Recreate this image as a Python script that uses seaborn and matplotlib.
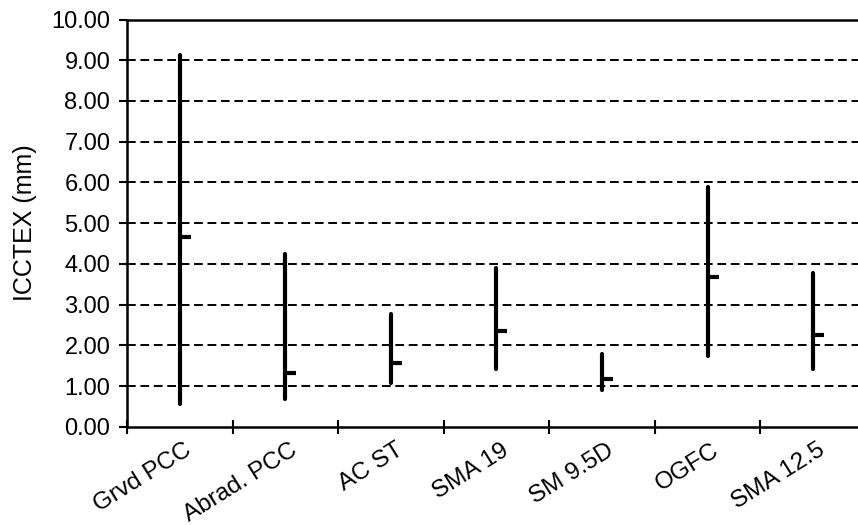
import numpy as np
import pandas as pd
import matplotlib
matplotlib.use("Agg")
import matplotlib.pyplot as plt
import matplotlib.transforms as mtransforms
import seaborn as sns
from matplotlib.ticker import FixedLocator, FormatStrFormatter

categories = ["Grvd PCC", "Abrad. PCC", "AC ST", "SMA 19", "SM 9.5D", "OGFC", "SMA 12.5"]
high_vals = [9.12, 4.23, 2.78, 3.89, 1.78, 5.89, 3.78]
low_vals = [0.57, 0.68, 1.07, 1.43, 0.90, 1.74, 1.41]
mean_vals = [4.65, 1.31, 1.56, 2.35, 1.17, 3.68, 2.25]
y_ticks = [0, 1, 2, 3, 4, 5, 6, 7, 8, 9, 10]

sns.set_theme(style="white")
plt.rcParams["font.family"] = ["Liberation Sans", "DejaVu Sans"]

rng_df = pd.DataFrame({
    "cat": categories * 2,
    "val": high_vals + low_vals,
})
mean_df = pd.DataFrame({"cat": categories, "val": mean_vals})

fig = plt.figure(figsize=(8.58, 5.25), dpi=100)
ax = fig.add_axes([127 / 858, (525 - 426.75) / 525, 739 / 858, 407.25 / 525])
ax.set_axisbelow(True)

# dashed horizontal grid
for yv in y_ticks[1:-1]:
    ax.axhline(yv, color="black", lw=1.4, dashes=(4.5, 2.4), zorder=0)

sns.lineplot(data=rng_df, x="cat", y="val", units="cat", estimator=None,
             color="black", lw=3.0, sort=False, ax=ax, legend=False)
sns.scatterplot(data=mean_df, x="cat", y="val", marker=1, s=64,
                color="black", linewidth=3.0, ax=ax, legend=False, zorder=5)

ax.set_xlim(-0.5, 6.5)
ax.set_ylim(0, 10)
ax.yaxis.set_major_locator(FixedLocator(y_ticks))
ax.yaxis.set_major_formatter(FormatStrFormatter("%.2f"))
ax.set_xticks(range(len(categories)))
ax.set_xticklabels(categories, rotation=32, ha="right", rotation_mode="anchor",
                   fontsize=17.5)
ax.set_xticks(np.arange(-0.5, 7.0, 1.0), minor=True)
ax.tick_params(axis="x", which="major", length=0, pad=9)
ax.tick_params(axis="x", which="minor", direction="inout", length=10, width=1.5,
               color="black", bottom=True)
ax.tick_params(axis="y", which="major", direction="out", length=6, width=1.5,
               color="black", left=True, labelsize=17, pad=6)
for lbl in ax.get_yticklabels():
    lbl.set_color("black")

offset = mtransforms.ScaledTranslation(4 / 100, 0, fig.dpi_scale_trans)
for lbl in ax.get_xticklabels():
    lbl.set_transform(lbl.get_transform() + offset)
    lbl.set_color("black")

ax.set_xlabel("")
ax.set_ylabel("ICCTEX (mm)", fontsize=18, color="black", labelpad=10)

for side in ["left", "bottom", "top"]:
    ax.spines[side].set_visible(True)
    ax.spines[side].set_color("black")
    ax.spines[side].set_linewidth(1.8)
ax.spines["right"].set_visible(False)

fig.savefig("out.png", dpi=100)
